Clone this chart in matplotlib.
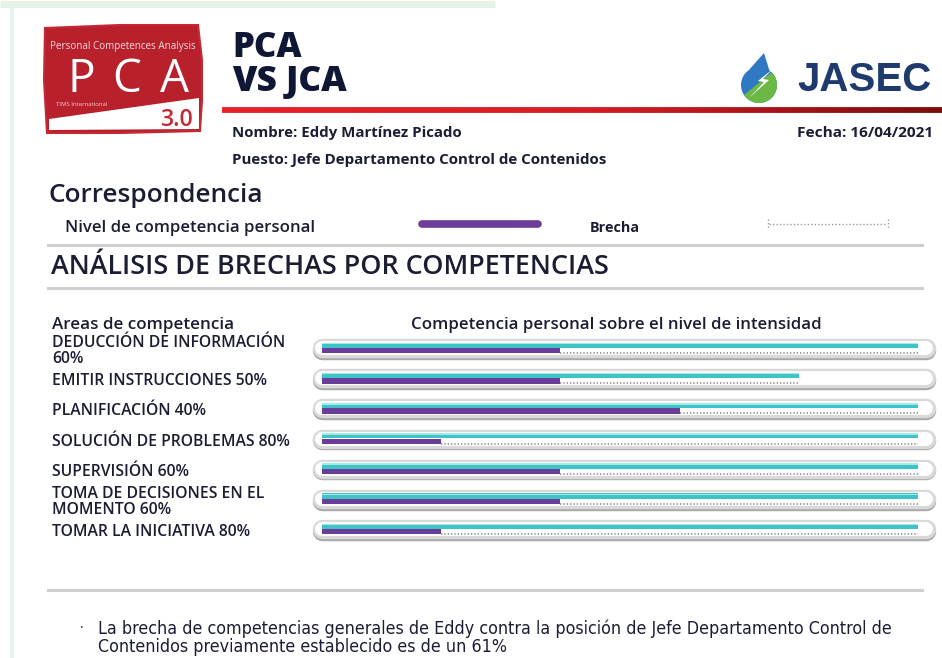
import matplotlib.pyplot as plt
import matplotlib.transforms as mtransforms
from matplotlib.patches import Polygon
from matplotlib.collections import LineCollection
import numpy as np

# Datos del análisis PCA vs JCA
areas = ["DEDUCCIÓN DE INFORMACIÓN\n60%", "EMITIR INSTRUCCIONES 50%", "PLANIFICACIÓN 40%",
         "SOLUCIÓN DE PROBLEMAS 80%", "SUPERVISIÓN 60%",
         "TOMA DE DECISIONES EN EL\nMOMENTO 60%", "TOMAR LA INICIATIVA 80%"]
nivel_personal = [2, 2, 3, 1, 2, 2, 1]   # competencia personal (morado)
nivel_puesto = [5, 4, 5, 5, 5, 5, 5]     # nivel requerido (cian)
nivel_max = 5

W, H = 942, 658
AZUL = "#1b1d33"
MORADO = "#6b3d9b"
CIAN = "#3ec4c7"
FUENTE = "Open Sans"

fig = plt.figure(figsize=(W / 100, H / 100), dpi=100)
fig.patch.set_facecolor("white")
pg = fig.add_axes([0, 0, 1, 1])
pg.set_xlim(0, W)
pg.set_ylim(H, 0)
pg.axis("off")
rend = fig.canvas.get_renderer()


def texto(x, y, s, ancho, tam=10, **kw):
    # ajusta el tamaño de letra al ancho medido en la referencia
    kw.setdefault("family", FUENTE)
    kw.setdefault("color", AZUL)
    kw.setdefault("va", "center")
    t = pg.text(x, y, s, fontsize=tam, **kw)
    w = t.get_window_extent(rend).width
    t.set_fontsize(tam * ancho / w)
    return t


# marco verde pálido de la captura
pg.plot([0, 495], [4, 4], color="#e6f2e8", lw=5, solid_capstyle="butt")
pg.plot([12, 12], [8, H], color="#eaf4ec", lw=3)

# logo PCA
rojo = Polygon([(45, 28), (120, 25), (198, 25), (202, 60), (202, 100), (200, 131),
                (120, 133), (47, 133), (44, 80)], closed=True,
               facecolor="#b8202c", edgecolor="#c42a35", lw=1.5)
pg.add_patch(rojo)
pg.add_patch(Polygon([(49, 119), (199, 98), (199, 129), (49, 130)], closed=True,
                     facecolor="white", edgecolor="none"))
texto(123, 47, "Personal Competences Analysis", 146, color="#f6d9dc", ha="center")
for letra, xc in zip("PCA", (81, 127, 174)):
    pg.text(xc, 80, letra, fontsize=33, color="white", ha="center", va="center",
            family=FUENTE, weight="normal")
texto(56, 104, "TIMS International", 52, color="#f3d0d3")
texto(176, 120, "3.0", 33, color="#c42a35", ha="center", weight="semibold")

# título
texto(232, 48, "PCA", 70, weight="extra bold", color="#0f1735")
texto(232, 82, "VS JCA", 115, weight="extra bold", color="#0f1735")

# logo JASEC
t = np.radians(np.linspace(-55, 235, 60))
gota = [(764, 53)] + list(zip(759 + 18 * np.cos(t), 85 + 18 * np.sin(t)))
azul_gota = Polygon(gota, closed=True, facecolor="#2f79c3", edgecolor="none")
pg.add_patch(azul_gota)
verde = Polygon([(784, 62), (784, 110), (735, 110), (737, 101)], closed=True,
                facecolor="#6cb845", edgecolor="none")
pg.add_patch(verde)
verde.set_clip_path(azul_gota)
pg.add_patch(Polygon([(774, 68), (758, 81), (764, 82), (749, 98), (769, 80), (763, 79)],
                     closed=True, facecolor="white", edgecolor="none"))
texto(797, 80, "JASEC", 134, family="Liberation Sans", weight="bold", color="#1f3b6e")

# línea roja con degradado
xs = np.linspace(222, W, 200)
segs = [[(a, 110), (b, 110)] for a, b in zip(xs[:-1], xs[1:])]
cols = plt.matplotlib.colors.LinearSegmentedColormap.from_list(
    "r", ["#e8202a", "#d81c24", "#7d0c0c"])
pg.add_collection(LineCollection(segs, colors=cols(np.linspace(0, 1, len(segs))), lw=4.2))

texto(232, 133, "Nombre: Eddy Martínez Picado", 231, weight="bold")
texto(933, 133, "Fecha: 16/04/2021", 136, weight="bold", ha="right")
texto(232, 160, "Puesto: Jefe Departamento Control de Contenidos", 376, weight="bold")

# leyenda
texto(49, 196, "Correspondencia", 216, weight="semibold")
texto(65, 228, "Nivel de competencia personal", 250, weight="semibold")
pg.plot([422, 538], [224, 224], color=MORADO, lw=5.5, solid_capstyle="round")
texto(590, 228, "Brecha", 50, weight="bold")
pg.plot([769, 887], [224, 224], color="#9a9a9a", lw=1, ls=(0, (1, 1.5)))
pg.plot([768, 768], [219, 229], color="#9a9a9a", lw=1, ls=(0, (1, 1.5)))
pg.plot([888, 888], [219, 229], color="#9a9a9a", lw=1, ls=(0, (1, 1.5)))

for yl in (245, 288, 590):
    pg.plot([48, 922], [yl, yl], color="#cfcfcf", lw=2.2)
texto(51, 267, "ANÁLISIS DE BRECHAS POR COMPETENCIAS", 555, weight="semibold")

texto(52, 325, "Areas de competencia", 181, weight="semibold")
texto(616, 325, "Competencia personal sobre el nivel de intensidad", 411,
      weight="semibold", ha="center")

# barras de competencias
ax = fig.add_axes([322 / W, 1 - 544 / H, 596 / W, 211 / H])
ax.set_xlim(0, nivel_max)
ax.set_ylim(len(areas) - 0.5, -0.5)
ax.axis("off")
y = np.arange(len(areas))

for i in y:
    ax.plot([0, 5.07], [i + 0.06, i + 0.06], lw=14, color="#a9a9a9",
            solid_capstyle="round", clip_on=False, zorder=1)
    ax.plot([0, 5.07], [i, i], lw=14, color="#d9d9d9",
            solid_capstyle="round", clip_on=False, zorder=1)
    ax.plot([0, 5.07], [i, i], lw=10, color="white",
            solid_capstyle="round", clip_on=False, zorder=2)

ax.barh(y - 0.09, nivel_puesto, height=0.18, color=CIAN, zorder=3)
ax.barh(y - 0.15, nivel_puesto, height=0.05, color="#a3e9e9", zorder=4)
ax.barh(y + 0.09, nivel_personal, height=0.18, color=MORADO, zorder=3)
ax.hlines(y + 0.17, nivel_personal, nivel_puesto, colors="#8f8f8f", lw=1.2,
          linestyles=(0, (0.8, 1.2)), zorder=3)

trans = mtransforms.blended_transform_factory(pg.transData, ax.transData)
etiquetas = [ax.text(52, i + 0.1, s, transform=trans, family=FUENTE, weight="semibold",
                     color=AZUL, va="center", linespacing=0.95, fontsize=10)
             for i, s in zip(y, areas)]
w_ref = etiquetas[3].get_window_extent(rend).width
for e in etiquetas:
    e.set_fontsize(10 * 238 / w_ref)

# conclusión
pg.text(80, 629, "·", family=FUENTE, fontsize=10, color=AZUL, va="center")
cond = dict(family="DejaVu Sans", fontstretch="condensed")
l1 = texto(98, 629, "La brecha de competencias generales de Eddy contra la posición de "
           "Jefe Departamento Control de", 790, **cond)
pg.text(98, 647, "Contenidos previamente establecido es de un 61%",
        fontsize=l1.get_fontsize(), color=AZUL, va="center", **cond)

fig.savefig("out.png", dpi=100, facecolor="white")
